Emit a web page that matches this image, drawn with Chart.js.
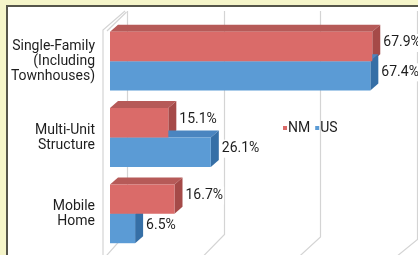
<!DOCTYPE html>
<html>
<head>
<meta charset="utf-8">
<script src="https://cdn.jsdelivr.net/npm/chart.js@4/dist/chart.umd.min.js"></script>
<style>
  html, body { margin: 0; padding: 0; }
  body { width: 418px; height: 255px; background: #f5f5c9; overflow: hidden; position: relative; }
  #panel {
    position: absolute; left: 6px; top: 5px; width: 412px; height: 250px;
    background: #fff; border-left: 2px solid #55554a; border-top: 2px solid #55554a;
  }
  #myChart { display: block; }
</style>
</head>
<body>
<div id="panel"><canvas id="myChart" width="412" height="250"></canvas></div>
<script>
const categories = [
  ['Single-Family', '(Including', 'Townhouses)'],
  ['Multi-Unit', 'Structure'],
  ['Mobile', 'Home']
];
const nmValues = [67.9, 15.1, 16.7];
const usValues = [67.4, 26.1, 6.5];
const gridTicks = [0, 25, 50, 75];

const FONT = "'Liberation Sans Narrow', Roboto, sans-serif";
const DX = 8, DY = 7;       // bar depth
const WALL_DX = 17;         // back wall offset

const faceColors = [
  { top: '#b65a58', side: '#a54a48' },
  { top: '#4a85c0', side: '#366fa6' }
];

// 3d walls + gridlines + bar faces, under the bars
const threeD = {
  id: 'threeD',
  beforeDatasetsDraw(chart) {
    const ctx = chart.ctx, xs = chart.scales.x, h = chart.height;
    ctx.save();
    ctx.strokeStyle = '#d4d4d4';
    ctx.lineWidth = 1.2;
    gridTicks.forEach(function (v) {
      var x = Math.round(xs.getPixelForValue(v) + WALL_DX) + 0.5;
      var bottom = h - 25 + v * 0.1;
      ctx.beginPath();
      ctx.moveTo(x, 4);
      ctx.lineTo(x, bottom);
      ctx.lineTo(x - 24, h + 2);
      ctx.stroke();
    });
    // left wall thickness
    var x0 = xs.getPixelForValue(0);
    ctx.beginPath();
    ctx.moveTo(x0 - 7, h);
    ctx.lineTo(x0 - 7, 23);
    ctx.lineTo(x0 + WALL_DX - 2, 4);
    ctx.stroke();
    ctx.beginPath();
    ctx.moveTo(x0 - 3, 24);
    ctx.lineTo(x0 + WALL_DX - 0.5, 5);
    ctx.stroke();

    chart.data.datasets.forEach(function (ds, di) {
      chart.getDatasetMeta(di).data.forEach(function (bar) {
        var p = bar.getProps(['x', 'y', 'base', 'height'], true);
        var top = p.y - p.height / 2, bot = p.y + p.height / 2;
        ctx.fillStyle = faceColors[di].top;
        ctx.beginPath();
        ctx.moveTo(p.base, top);
        ctx.lineTo(p.base + DX, top - DY);
        ctx.lineTo(p.x + DX, top - DY);
        ctx.lineTo(p.x, top);
        ctx.closePath();
        ctx.fill();
        ctx.fillStyle = faceColors[di].side;
        ctx.beginPath();
        ctx.moveTo(p.x, top);
        ctx.lineTo(p.x + DX, top - DY);
        ctx.lineTo(p.x + DX, bot - DY);
        ctx.lineTo(p.x, bot);
        ctx.closePath();
        ctx.fill();
      });
    });
    ctx.restore();
  },
  afterDatasetsDraw(chart) {
    const ctx = chart.ctx;
    ctx.save();
    ctx.font = '14px ' + FONT;
    ctx.textBaseline = 'middle';
    chart.data.datasets.forEach(function (ds, di) {
      chart.getDatasetMeta(di).data.forEach(function (bar, i) {
        var p = bar.getProps(['x', 'y'], true);
        var txt = ds.data[i].toFixed(1) + '%';
        var tx = p.x + DX + 3, ty = p.y - DY / 2;
        var w = ctx.measureText(txt).width;
        ctx.fillStyle = '#fff';
        ctx.fillRect(tx - 1, ty - 9, w + 2, 18);
        ctx.fillStyle = '#1e1e1e';
        ctx.fillText(txt, tx, ty);
      });
    });
    // legend
    var lx = 275, ly = 121;
    chart.data.datasets.forEach(function (ds) {
      ctx.fillStyle = ds.backgroundColor;
      ctx.fillRect(lx, ly - 2, 4, 4);
      lx += 5;
      ctx.fillStyle = '#1e1e1e';
      ctx.fillText(ds.label, lx, ly);
      lx += ctx.measureText(ds.label).width + 5;
    });
    ctx.restore();
  }
};

const data = {
  labels: categories,
  datasets: [{
    label: 'NM',
    data: nmValues,
    backgroundColor: '#da6b69',
    borderWidth: 0
  },
  {
    label: 'US',
    data: usValues,
    backgroundColor: '#5b9bd5',
    borderWidth: 0
  }]
};

const config = {
  type: 'bar',
  data: data,
  plugins: [threeD],
  options: {
    indexAxis: 'y',
    responsive: false,
    animation: false,
    categoryPercentage: 0.77,
    barPercentage: 1,
    layout: {
      padding: { top: 16, bottom: 5, right: 1, left: 0 }
    },
    scales: {
      x: {
        display: false,
        min: 0,
        max: 80
      },
      y: {
        grid: { display: false, drawTicks: false },
        border: { display: false },
        ticks: {
          color: '#1e1e1e',
          padding: 15,
          font: { family: FONT, size: 14, lineHeight: '15px' }
        },
        afterFit: function (scale) {
          scale.width = 102;
          scale.paddingTop = 0;
          scale.paddingBottom = 0;
        }
      }
    },
    plugins: {
      legend: { display: false },
      tooltip: { enabled: false }
    }
  }
};

var myChart = new Chart(document.getElementById('myChart'), config);
</script>
</body>
</html>
